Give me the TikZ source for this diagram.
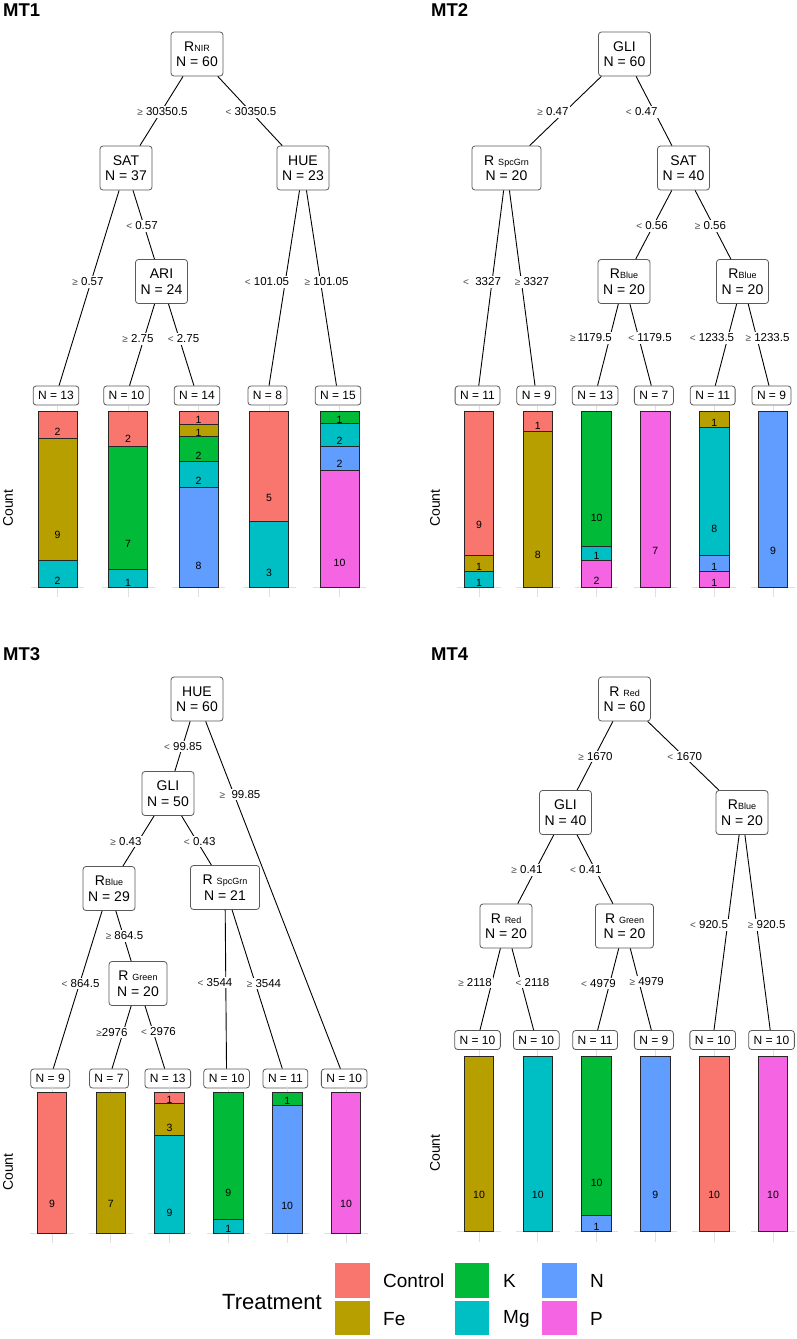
\documentclass[tikz,border=0pt]{standalone}
\usepackage{fontspec}
\setmainfont{Liberation Sans}
\definecolor{cControl}{HTML}{F8766D}
\definecolor{cFe}{HTML}{B79F00}
\definecolor{cK}{HTML}{00BA38}
\definecolor{cMg}{HTML}{00BFC4}
\definecolor{cN}{HTML}{619CFF}
\definecolor{cP}{HTML}{F564E3}
\definecolor{boxc}{HTML}{5A5A5A}
\newcount\segcount
\newcommand{\subt}[1]{{\fontsize{9}{9}\selectfont #1}}
\newcommand{\gsym}{{\color{black!70}\fontsize{10}{10}\selectfont ≥}}
\newcommand{\lsym}{{\color{black!70}\fontsize{10}{10}\selectfont <}}
\newcommand{\stackbar}[6]{%
  \draw[gridline] (#1,#3-6) -- (#1,#4+10);
  \draw[gridline] (#1-#2-7,#4) -- (#1+#2+7,#4);
  \xdef\cumfrac{0}%
  \foreach \bcol/\bnum in {#6} {%
    \pgfmathsetmacro{\blo}{\cumfrac}%
    \pgfmathsetmacro{\bhi}{\cumfrac+\bnum/#5}%
    \global\let\cumfrac\bhi
    \global\advance\segcount by 1
    \filldraw[fill=\bcol, segline] (#1-#2,{#4-(#4-#3)*\blo}) rectangle (#1+#2,{#4-(#4-#3)*\bhi});
    \node[barnum] (seg\the\segcount) at (#1,{#4-(#4-#3)*(\blo+0.2*(\bhi-\blo))-1.4}) {\bnum};
  }%
}
\begin{document}
\begin{tikzpicture}[x=1pt,y=-1pt,
  inner/.style={draw=boxc, fill=white, rounded corners=3pt, line width=0.8pt, minimum width=52pt, minimum height=44pt, align=center, inner xsep=5pt, inner ysep=1pt, font=\fontsize{14}{15.5}\selectfont},
  term/.style={draw=boxc, fill=white, rounded corners=3pt, line width=0.8pt, minimum height=19pt, inner xsep=5pt, inner ysep=0pt, font=\fontsize{12}{12}\selectfont},
  elabel/.style={fill=white, inner sep=1.5pt, font=\fontsize{11.5}{12}\selectfont},
  edge/.style={line width=0.9pt, black},
  ttl/.style={font=\bfseries\fontsize{18.5}{18.5}\selectfont, anchor=west, inner sep=0pt},
  countlbl/.style={rotate=90, font=\fontsize{14}{14}\selectfont, inner sep=0pt},
  barnum/.style={font=\fontsize{10.5}{10.5}\selectfont, inner sep=0pt},
  segline/.style={draw=black!85, line width=0.8pt},
  gridline/.style={draw=black!12, line width=0.7pt},
  legtxt/.style={font=\fontsize{19}{19}\selectfont, anchor=west, inner sep=0pt},
]
\useasboundingbox (0,0) rectangle (797,1339);
\fill[white] (0,0) rectangle (797,1339);

% ================= MT1 =================
\node[ttl] (title1) at (3,10) {MT1};
\node[inner] (r1) at (197,54) {R\subt{NIR}\\N = 60};
\node[inner] (sat1) at (126,168) {SAT\\N = 37};
\node[inner] (hue1) at (303,168) {HUE\\N = 23};
\node[inner] (ari1) at (161.5,281.5) {ARI\\N = 24};
\node[term] (t11) at (56,395.5) {N = 13};
\node[term] (t12) at (126.5,395.5) {N = 10};
\node[term] (t13) at (197,395.5) {N = 14};
\node[term] (t14) at (267.5,395.5) {N = 8};
\node[term] (t15) at (338,395.5) {N = 15};
\draw[edge] (r1) -- (sat1);
\draw[edge] (r1) -- (hue1);
\draw[edge] (sat1) -- (t11);
\draw[edge] (sat1) -- (ari1);
\draw[edge] (ari1) -- (t12);
\draw[edge] (ari1) -- (t13);
\draw[edge] (hue1) -- (t14);
\draw[edge] (hue1) -- (t15);
\node[elabel] (l11) at (162.5,112) {\gsym\ 30350.5};
\node[elabel] (l12) at (251,112) {\lsym\ 30350.5};
\node[elabel] (l13) at (88,282) {\gsym\ 0.57};
\node[elabel] (l14) at (142,226) {\lsym\ 0.57};
\node[elabel] (l15) at (138,339) {\gsym\ 2.75};
\node[elabel] (l16) at (183.5,339) {\lsym\ 2.75};
\node[elabel] (l17) at (267,282) {\lsym\ 101.05};
\node[elabel] (l18) at (326.5,282) {\gsym\ 101.05};
\node[countlbl] (count1) at (8,508) {Count};
\stackbar{57.5}{19.5}{411.7}{587.3}{13}{cMg/2,cFe/9,cControl/2}
\stackbar{128}{19.5}{411.7}{587.3}{10}{cMg/1,cK/7,cControl/2}
\stackbar{198.5}{19.5}{411.7}{587.3}{14}{cN/8,cMg/2,cK/2,cFe/1,cControl/1}
\stackbar{269}{19.5}{411.7}{587.3}{8}{cMg/3,cControl/5}
\stackbar{339.5}{19.5}{411.7}{587.3}{15}{cP/10,cN/2,cMg/2,cK/1}

% ================= MT2 =================
\node[ttl] (title2) at (431,10) {MT2};
\node[inner] (r2) at (624.5,54) {GLI\\N = 60};
\node[inner, minimum width=69pt] (spc2) at (506.5,168) {R\ \subt{SpcGrn}\\N = 20};
\node[inner] (sat2) at (683.5,168) {SAT\\N = 40};
\node[inner] (b21) at (624,281.5) {R\subt{Blue}\\N = 20};
\node[inner] (b22) at (742.5,281.5) {R\subt{Blue}\\N = 20};
\node[term] (t21) at (477.5,395.5) {N = 11};
\node[term] (t22) at (536.3,395.5) {N = 9};
\node[term] (t23) at (595.1,395.5) {N = 13};
\node[term] (t24) at (653.9,395.5) {N = 7};
\node[term] (t25) at (712.7,395.5) {N = 11};
\node[term] (t26) at (771.5,395.5) {N = 9};
\draw[edge] (r2) -- (spc2);
\draw[edge] (r2) -- (sat2);
\draw[edge] (spc2) -- (t21);
\draw[edge] (spc2) -- (t22);
\draw[edge] (sat2) -- (b21);
\draw[edge] (sat2) -- (b22);
\draw[edge] (b21) -- (t23);
\draw[edge] (b21) -- (t24);
\draw[edge] (b22) -- (t25);
\draw[edge] (b22) -- (t26);
\node[elabel] (l21) at (553,112) {\gsym\ 0.47};
\node[elabel] (l22) at (641.7,112) {\lsym\ 0.47};
\node[elabel] (l23) at (482,282) {\lsym\ \ 3327};
\node[elabel] (l24) at (532,282) {\gsym\ 3327};
\node[elabel] (l25) at (652,226) {\lsym\ 0.56};
\node[elabel] (l26) at (710.5,226) {\gsym\ 0.56};
\node[elabel] (l27) at (591,338) {\gsym\,1179.5};
\node[elabel] (l28) at (650,338) {\lsym\ 1179.5};
\node[elabel] (l29) at (712,338) {\lsym\ 1233.5};
\node[elabel] (l2a) at (767.5,338) {\gsym\ 1233.5};
\node[countlbl] (count2) at (435,508) {Count};
\stackbar{479}{14.75}{411.7}{587.3}{11}{cMg/1,cFe/1,cControl/9}
\stackbar{537.8}{14.75}{411.7}{587.3}{9}{cFe/8,cControl/1}
\stackbar{596.6}{14.75}{411.7}{587.3}{13}{cP/2,cMg/1,cK/10}
\stackbar{655.4}{14.75}{411.7}{587.3}{7}{cP/7}
\stackbar{714.2}{14.75}{411.7}{587.3}{11}{cP/1,cN/1,cMg/8,cFe/1}
\stackbar{773}{14.75}{411.7}{587.3}{9}{cN/9}

% ================= MT3 =================
\node[ttl] (title3) at (3,654) {MT3};
\node[inner] (r3) at (197,699) {HUE\\N = 60};
\node[inner] (g3) at (168,793.5) {GLI\\N = 50};
\node[inner] (b3) at (109,888.5) {R\subt{Blue}\\N = 29};
\node[inner, minimum width=69pt] (s3) at (225,887.5) {R\ \subt{SpcGrn}\\N = 21};
\node[inner, minimum width=58pt] (gr3) at (138,983.5) {R\ \subt{Green}\\N = 20};
\node[term] (t31) at (50.2,1078.5) {N = 9};
\node[term] (t32) at (109,1078.5) {N = 7};
\node[term] (t33) at (167.8,1078.5) {N = 13};
\node[term] (t34) at (226.6,1078.5) {N = 10};
\node[term] (t35) at (285.4,1078.5) {N = 11};
\node[term] (t36) at (344.2,1078.5) {N = 10};
\draw[edge] (r3) -- (g3);
\draw[edge] (r3) -- (t36);
\draw[edge] (g3) -- (b3);
\draw[edge] (g3) -- (s3);
\draw[edge] (b3) -- (t31);
\draw[edge] (b3) -- (gr3);
\draw[edge] (gr3) -- (t32);
\draw[edge] (gr3) -- (t33);
\draw[edge] (s3) -- (t34);
\draw[edge] (s3) -- (t35);
\node[elabel] (l31) at (183,746.7) {\lsym\ 99.85};
\node[elabel] (l32) at (240,794.3) {\gsym\ \ 99.85};
\node[elabel] (l33) at (126,841.7) {\gsym\ 0.43};
\node[elabel] (l34) at (199.7,841.7) {\lsym\ 0.43};
\node[elabel] (l35) at (124.5,936) {\gsym\ 864.5};
\node[elabel] (l36) at (80.5,983.3) {\lsym\ 864.5};
\node[elabel] (l37) at (215,982.7) {\lsym\ 3544};
\node[elabel] (l38) at (264,983.3) {\gsym\ 3544};
\node[elabel] (l39) at (112,1032.3) {\gsym2976};
\node[elabel] (l3a) at (158.5,1031.7) {\lsym\ 2976};
\node[countlbl] (count3) at (8,1172) {Count};
\stackbar{52}{14.75}{1092.3}{1233.3}{9}{cControl/9}
\stackbar{110.8}{14.75}{1092.3}{1233.3}{7}{cFe/7}
\stackbar{169.6}{14.75}{1092.3}{1233.3}{13}{cMg/9,cFe/3,cControl/1}
\stackbar{228.4}{14.75}{1092.3}{1233.3}{10}{cMg/1,cK/9}
\stackbar{287.2}{14.75}{1092.3}{1233.3}{11}{cN/10,cK/1}
\stackbar{346}{14.75}{1092.3}{1233.3}{10}{cP/10}

% ================= MT4 =================
\node[ttl] (title4) at (431,654) {MT4};
\node[inner] (r4) at (624.5,699) {R\ \subt{Red}\\N = 60};
\node[inner] (g4) at (565.5,812.5) {GLI\\N = 40};
\node[inner] (bl4) at (742,812.5) {R\subt{Blue}\\N = 20};
\node[inner] (rr4) at (506,926) {R\ \subt{Red}\\N = 20};
\node[inner, minimum width=58pt] (gr4) at (624.5,926) {R\ \subt{Green}\\N = 20};
\node[term] (t41) at (477.5,1040) {N = 10};
\node[term] (t42) at (536.3,1040) {N = 10};
\node[term] (t43) at (595.1,1040) {N = 11};
\node[term] (t44) at (653.9,1040) {N = 9};
\node[term] (t45) at (712.7,1040) {N = 10};
\node[term] (t46) at (771.5,1040) {N = 10};
\draw[edge] (r4) -- (g4);
\draw[edge] (r4) -- (bl4);
\draw[edge] (g4) -- (rr4);
\draw[edge] (g4) -- (gr4);
\draw[edge] (rr4) -- (t41);
\draw[edge] (rr4) -- (t42);
\draw[edge] (gr4) -- (t43);
\draw[edge] (gr4) -- (t44);
\draw[edge] (bl4) -- (t45);
\draw[edge] (bl4) -- (t46);
\node[elabel] (l41) at (595.5,756.7) {\gsym\ 1670};
\node[elabel] (l42) at (684.8,756.7) {\lsym\ 1670};
\node[elabel] (l43) at (527,870) {\gsym\ 0.41};
\node[elabel] (l44) at (585.8,870) {\lsym\ 0.41};
\node[elabel] (l45) at (709,925) {\lsym\ 920.5};
\node[elabel] (l46) at (766.7,925) {\gsym\ 920.5};
\node[elabel] (l47) at (475,982.3) {\gsym\ 2118};
\node[elabel] (l48) at (532.5,982.3) {\lsym\ 2118};
\node[elabel] (l49) at (598.5,983.3) {\lsym\ 4979};
\node[elabel] (l4a) at (646.7,981.7) {\gsym\ 4979};
\node[countlbl] (count4) at (435,1153) {Count};
\stackbar{479}{14.75}{1056}{1231.7}{10}{cFe/10}
\stackbar{537.8}{14.75}{1056}{1231.7}{10}{cMg/10}
\stackbar{596.6}{14.75}{1056}{1231.7}{11}{cN/1,cK/10}
\stackbar{655.4}{14.75}{1056}{1231.7}{9}{cN/9}
\stackbar{714.2}{14.75}{1056}{1231.7}{10}{cControl/10}
\stackbar{773}{14.75}{1056}{1231.7}{10}{cP/10}

% ================= Legend =================
\node[font=\fontsize{22}{22}\selectfont, anchor=west, inner sep=0pt] (legtitle) at (222,1302) {Treatment};
\fill[cControl] (335,1263) rectangle (370,1298);
\fill[cFe] (335,1301) rectangle (370,1335);
\fill[cK] (455,1263) rectangle (489,1298);
\fill[cMg] (455,1301) rectangle (489,1335);
\fill[cN] (542,1263) rectangle (577,1298);
\fill[cP] (542,1301) rectangle (577,1335);
\node[legtxt] (lgC) at (383,1281) {Control};
\node[legtxt] (lgFe) at (383,1319) {Fe};
\node[legtxt] (lgK) at (503,1281) {K};
\node[legtxt] (lgMg) at (503,1319) {Mg};
\node[legtxt] (lgN) at (590,1281) {N};
\node[legtxt] (lgP) at (590,1319) {P};
\end{tikzpicture}
\end{document}
